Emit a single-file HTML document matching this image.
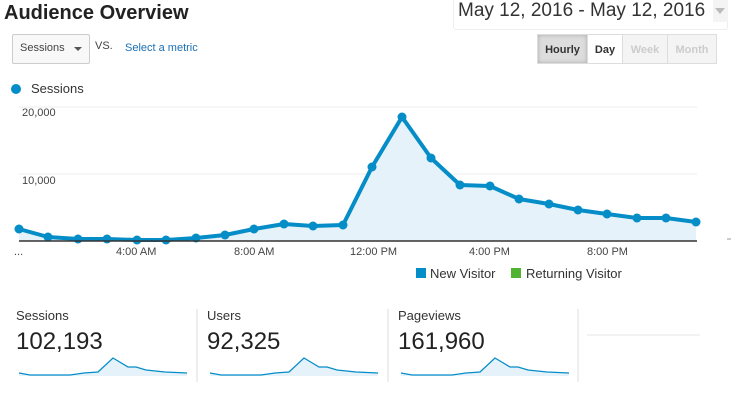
<!DOCTYPE html>
<html><head><style>
body{margin:0;width:732px;height:404px;background:#fff;font-family:"Liberation Sans",sans-serif;position:relative;overflow:hidden;color:#222}
.a{position:absolute;white-space:nowrap}
.btn{position:absolute;top:34px;height:30px;line-height:30px;text-align:center;font-size:11px;font-weight:bold;border:1px solid #ddd;box-sizing:border-box}
.lbl{font-size:11px;color:#444}
</style></head><body>
<div class="a" style="left:4px;top:2px;font-size:20px;font-weight:bold;color:#222">Audience Overview</div>
<div class="a" style="left:453px;top:-2px;width:275px;height:32px;border:1px solid #eee;border-top:none;border-radius:0 0 3px 3px;box-sizing:border-box"></div>
<div class="a" style="left:458px;top:0px;font-size:19px;color:#333">May 12, 2016 - May 12, 2016</div>
<div class="a" style="left:713px;top:0;width:15px;height:22px;background:#f4f4f4"></div>
<div class="a" style="left:715px;top:8px;width:0;height:0;border-left:5px solid transparent;border-right:5px solid transparent;border-top:6px solid #bbb"></div>
<div class="a" style="left:12px;top:34px;width:78px;height:30px;border:1px solid #ccc;border-radius:2px;box-sizing:border-box;background:#f8f8f8"></div>
<div class="a" style="left:20px;top:42px;font-size:11px;color:#444">Sessions</div>
<div class="a" style="left:74px;top:47px;border-left:4px solid transparent;border-right:4px solid transparent;border-top:4px solid #555"></div>
<div class="a" style="left:95px;top:40px;font-size:11px;color:#444">VS.</div>
<div class="a" style="left:125px;top:42px;font-size:11px;color:#1a6fb5">Select a metric</div>
<div class="btn" style="left:537px;width:51px;background:#ddd;color:#333;box-shadow:inset 0 0 4px #aaa">Hourly</div>
<div class="btn" style="left:587px;width:36px;background:#fff;color:#333">Day</div>
<div class="btn" style="left:622px;width:46px;background:#f4f4f4;color:#ccc">Week</div>
<div class="btn" style="left:667px;width:50px;background:#f4f4f4;color:#ccc">Month</div>
<div class="a" style="left:11px;top:84px;width:10px;height:10px;border-radius:50%;background:#058dc7"></div>
<div class="a" style="left:31px;top:81px;font-size:13px;color:#333">Sessions</div>
<svg class="a" style="left:0;top:0" width="732" height="404">
<line x1="19" y1="107" x2="697" y2="107" stroke="#eee"/>
<line x1="19" y1="174" x2="697" y2="174" stroke="#eee"/>
<polygon fill="#e5f2f9" points="19,241 19,229 48,237 78,239 107,239 137,240 166,240 196,238 225,235 254,229 284,224 313,226 343,225 372,167 402,117 431,158 460,185 490,186 519,199 549,204 578,210 607,214 637,218 666,218 696,222 696,241"/>
<polyline fill="none" stroke="#058dc7" stroke-width="4" stroke-linejoin="round" points="19,229 48,237 78,239 107,239 137,240 166,240 196,238 225,235 254,229 284,224 313,226 343,225 372,167 402,117 431,158 460,185 490,186 519,199 549,204 578,210 607,214 637,218 666,218 696,222"/>
<g fill="#058dc7">
<circle cx="19" cy="229" r="4.5"/><circle cx="48" cy="237" r="4.5"/><circle cx="78" cy="239" r="4.5"/><circle cx="107" cy="239" r="4.5"/><circle cx="137" cy="240" r="4.5"/><circle cx="166" cy="240" r="4.5"/><circle cx="196" cy="238" r="4.5"/><circle cx="225" cy="235" r="4.5"/><circle cx="254" cy="229" r="4.5"/><circle cx="284" cy="224" r="4.5"/><circle cx="313" cy="226" r="4.5"/><circle cx="343" cy="225" r="4.5"/><circle cx="372" cy="167" r="4.5"/><circle cx="402" cy="117" r="4.5"/><circle cx="431" cy="158" r="4.5"/><circle cx="460" cy="185" r="4.5"/><circle cx="490" cy="186" r="4.5"/><circle cx="519" cy="199" r="4.5"/><circle cx="549" cy="204" r="4.5"/><circle cx="578" cy="210" r="4.5"/><circle cx="607" cy="214" r="4.5"/><circle cx="637" cy="218" r="4.5"/><circle cx="666" cy="218" r="4.5"/><circle cx="696" cy="222" r="4.5"/>
</g>
<line x1="19" y1="241" x2="697" y2="241" stroke="#333" stroke-width="1.5"/>
<line x1="727" y1="239" x2="731" y2="239" stroke="#999"/>
<line x1="197" y1="309" x2="197" y2="382" stroke="#ddd"/>
<line x1="388" y1="309" x2="388" y2="382" stroke="#ddd"/>
<line x1="578" y1="309" x2="578" y2="382" stroke="#ddd"/>
<line x1="587" y1="335" x2="700" y2="335" stroke="#eee" stroke-width="1.5"/>
<g id="sp">
<polygon fill="#e5f2f9" points="19,376 19,373 30,375 70,375 84,373 98,372 113,358 128,367 136,367 146,370 165,372 187,373 187,376"/>
<polyline fill="none" stroke="#058dc7" stroke-width="1.3" points="19,373 30,375 70,375 84,373 98,372 113,358 128,367 136,367 146,370 165,372 187,373"/>
</g>
<use href="#sp" x="191"/>
<use href="#sp" x="382"/>
</svg>
<div class="a" style="left:0;top:0"></div>
<div class="a lbl" style="left:22px;top:107px">20,000</div>
<div class="a lbl" style="left:22px;top:175px">10,000</div>
<div class="a lbl" style="left:14px;top:246px">...</div>
<div class="a lbl" style="left:116px;top:246px">4:00 AM</div>
<div class="a lbl" style="left:234px;top:246px">8:00 AM</div>
<div class="a lbl" style="left:350px;top:246px">12:00 PM</div>
<div class="a lbl" style="left:469px;top:246px">4:00 PM</div>
<div class="a lbl" style="left:587px;top:246px">8:00 PM</div>
<div class="a" style="left:416px;top:268px;width:10px;height:10px;background:#058dc7"></div>
<div class="a" style="left:430px;top:266px;font-size:13px;color:#333">New Visitor</div>
<div class="a" style="left:511px;top:268px;width:10px;height:10px;background:#50b432"></div>
<div class="a" style="left:526px;top:266px;font-size:13px;color:#333">Returning Visitor</div>
<div class="a" style="left:16px;top:308px;font-size:13px;color:#333">Sessions</div>
<div class="a" style="left:16px;top:328px;font-size:24px;color:#222">102,193</div>
<div class="a" style="left:207px;top:308px;font-size:13px;color:#333">Users</div>
<div class="a" style="left:207px;top:328px;font-size:24px;color:#222">92,325</div>
<div class="a" style="left:398px;top:308px;font-size:13px;color:#333">Pageviews</div>
<div class="a" style="left:398px;top:328px;font-size:24px;color:#222">161,960</div>
</body></html>
